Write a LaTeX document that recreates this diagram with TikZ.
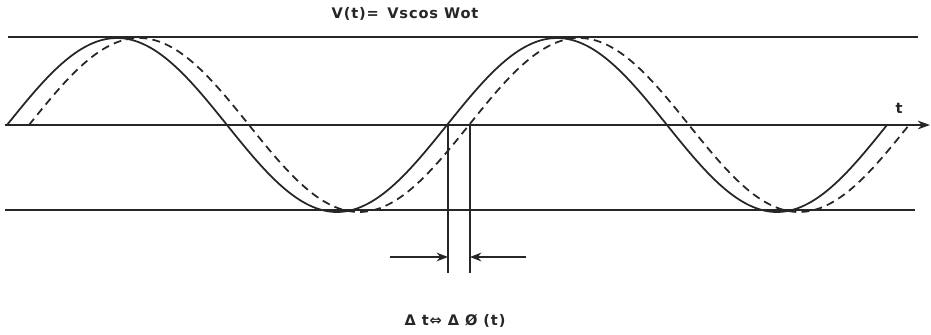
\documentclass[tikz,border=0pt]{standalone}
\usepackage{fontspec}
\usetikzlibrary{arrows.meta}
\newfontfamily\lblfont[LetterSpace=6]{DejaVu Sans}
\tikzset{
  guide/.style={line width=0.8pt,black!85},
  wave/.style={line width=1pt,black!85,smooth},
  shifted/.style={wave,dash pattern=on 4.5pt off 3pt}
}
\begin{document}
\begin{tikzpicture}[x=0.02cm,y=-0.02cm,>=stealth,every node/.style={font=\lblfont\bfseries\fontsize{8.3}{10}\selectfont,black!85}]
  \useasboundingbox (0,0) rectangle (931,335);
  % reference levels
  \coordinate (tl) at (8,37);
  \coordinate (tr) at (918,37);
  \coordinate (al) at (5,125);
  \coordinate (ar) at (930,125);
  \coordinate (bl) at (5,210);
  \coordinate (br) at (915,210);
  \draw[guide] (tl) -- (tr);
  \draw[guide,-{Stealth[length=7pt,width=5pt]}] (al) -- (ar);
  \draw[guide] (bl) -- (br);
  % signal and delayed signal
  \draw[wave] plot[domain=7:887,samples=160] (\x,{125-87*sin((\x-7)/440*360)});
  \draw[shifted] plot[domain=29:909,samples=160] (\x,{125-87*sin((\x-29)/440*360)});
  % time shift
  \coordinate (s1) at (448,125);
  \coordinate (s1e) at (448,273);
  \coordinate (s2) at (470,125);
  \coordinate (s2e) at (470,273);
  \draw[guide] (s1) -- (s1e);
  \draw[guide] (s2) -- (s2e);
  \coordinate (pl) at (390,257);
  \coordinate (pr) at (526,257);
  \coordinate (hl) at (448,257);
  \coordinate (hr) at (470,257);
  \draw[guide,-{Stealth[length=6.5pt,width=5pt]}] (pl) -- (hl);
  \draw[guide,-{Stealth[length=6.5pt,width=5pt]}] (pr) -- (hr);
  % labels
  \node (eq) at (405,14) {V(t)=\, Vscos Wot};
  \node (tlab) at (899,108) {t};
  \node (dlab) at (455,321) {Δ t⇔ Δ Ø (t)};
\end{tikzpicture}
\end{document}
